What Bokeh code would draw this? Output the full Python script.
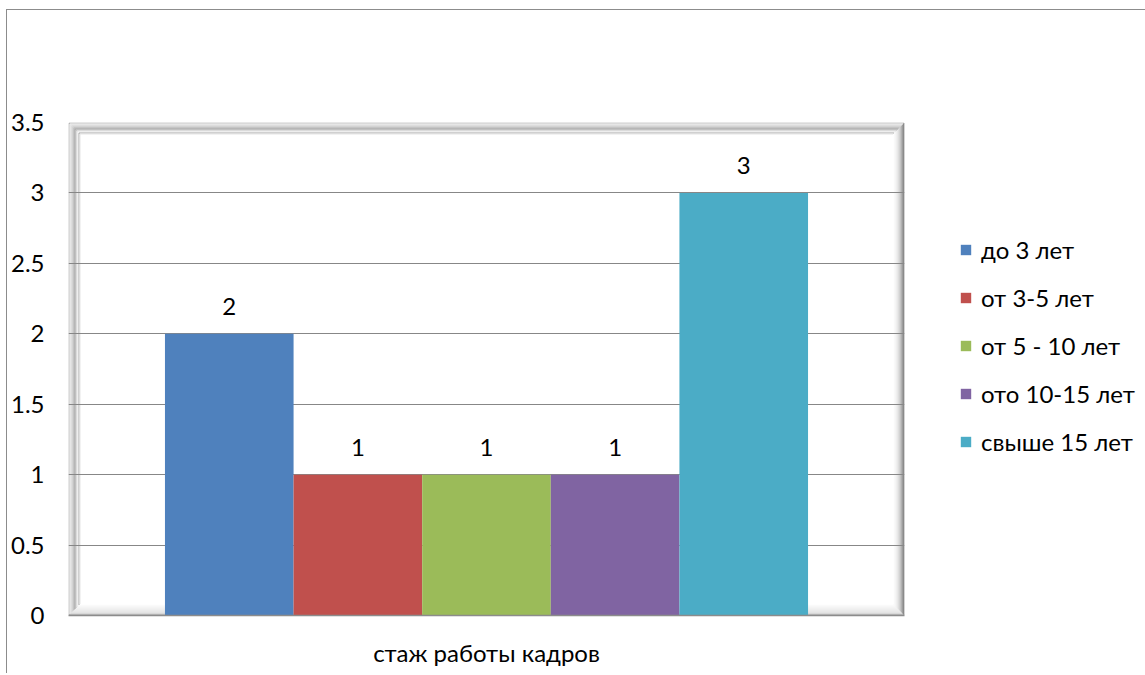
from bokeh.plotting import figure
from bokeh.models import (FactorRange, Range1d, ColumnDataSource, Legend, LegendItem,
                          FixedTicker, NumeralTickFormatter)
from bokeh.transform import dodge
from bokeh.embed import file_html
from bokeh.resources import INLINE
from bokeh.core.properties import value

# ---- data ----
category = "стаж работы кадров"
series = ["до 3 лет", "от 3-5 лет", "от 5 - 10 лет", "ото 10-15 лет", "свыше 15 лет"]
values = [2, 1, 1, 1, 3]
colors = ["#4F81BD", "#C0504D", "#9BBB59", "#8064A2", "#4BACC6"]
y_ticks = [0, 0.5, 1, 1.5, 2, 2.5, 3, 3.5]

FONT = "Lato"
FS = "24px"

FRAME_W, FRAME_H = 836, 493

p = figure(x_range=FactorRange(factors=[category]), y_range=Range1d(0, 3.5),
           frame_width=FRAME_W, frame_height=FRAME_H,
           min_border_left=61, min_border_right=236,
           min_border_top=112, min_border_bottom=58,
           output_backend="svg", toolbar_location=None)
p.styles = {"margin-left": "6px", "margin-top": "9px",
            "border-left": "1px solid #8c8c8c", "border-top": "1px solid #8c8c8c"}
p.outline_line_color = None
p.background_fill_color = "white"
p.border_fill_color = "white"

# grid
p.xgrid.grid_line_color = None
p.ygrid.grid_line_color = "#878787"
p.ygrid.grid_line_width = 1.2
p.yaxis.ticker = FixedTicker(ticks=y_ticks)
p.yaxis.formatter = NumeralTickFormatter(format="0.[0]")
p.yaxis.axis_line_color = None
p.yaxis.major_tick_line_color = None
p.yaxis.minor_tick_line_color = None
p.yaxis.major_tick_in = 0
p.yaxis.major_tick_out = 0
p.yaxis.major_label_standoff = 24
p.yaxis.major_label_text_font = FONT
p.yaxis.major_label_text_font_size = FS
p.yaxis.major_label_text_color = "black"

p.xaxis.axis_line_color = "#8c8c8c"
p.xaxis.axis_line_width = 1.5
p.xaxis.major_tick_line_color = None
p.xaxis.major_tick_in = 0
p.xaxis.major_tick_out = 0
p.xaxis.major_label_standoff = 22
p.xaxis.major_label_text_font = FONT
p.xaxis.major_label_text_font_size = FS
p.xaxis.major_label_text_color = "black"

# bevel frame (decoration), drawn beneath grid
pxx = 1.0 / FRAME_W
pxy = 3.5 / FRAME_H
left_cols = ["#a0a0a0", "#e4e4e4", "#dadada", "#cecece", "#c0c0c0", "#a8a8a8",
             "#989898", "#b4b4b4", "#dcdcdc", "#efefef", "#a8a8a8", "#e6e6e6"]
right_cols = ["#555555", "#6a6a6a", "#858585", "#a0a0a0", "#b8b8b8", "#cacaca",
              "#d8d8d8", "#e4e4e4", "#ececec", "#f3f3f3", "#f9f9f9", "#ffffff"]
bottom_cols = ["#8c8c8c", "#b4b4b4", "#d6d6d6", "#dedede", "#e2e2e2", "#e6e6e6",
               "#eaeaea", "#eeeeee", "#f2f2f2", "#f6f6f6", "#fafafa", "#ffffff"]
for i in range(len(left_cols)):
    ox = (i + 0.5) * pxx
    oy = (i + 0.5) * pxy
    r1 = p.segment(x0=[1 - ox], y0=[oy], x1=[1 - ox], y1=[3.5 - oy],
                   line_color=right_cols[i], line_width=1)
    r2 = p.segment(x0=[ox], y0=[oy], x1=[1 - ox], y1=[oy],
                   line_color=bottom_cols[i], line_width=1)
    r3 = p.segment(x0=[ox], y0=[oy], x1=[ox], y1=[3.5 - oy],
                   line_color=left_cols[i], line_width=1)
    r4 = p.segment(x0=[ox], y0=[3.5 - oy], x1=[1 - ox], y1=[3.5 - oy],
                   line_color=left_cols[i], line_width=1)
    for r in (r1, r2, r3, r4):
        r.level = "image"

# bars
n = len(series)
bw = 1.0 / (n + 1.5)
items = []
for i, (s, v, c) in enumerate(zip(series, values, colors)):
    src = ColumnDataSource(dict(x=[category], top=[v], lab=[str(v)]))
    off = (i - (n - 1) / 2) * bw
    r = p.vbar(x=dodge("x", off, range=p.x_range), top="top", bottom=0, width=bw,
               source=src, fill_color=c, line_color=None)
    p.text(x=dodge("x", off, range=p.x_range), y="top", text="lab", source=src,
           text_align="center", text_baseline="middle", y_offset=-27,
           text_font=value(FONT), text_font_size=FS, text_color="black")
    items.append(LegendItem(label=s, renderers=[r]))

legend = Legend(items=items, location=(55, 159), orientation="vertical",
                glyph_width=13, glyph_height=13, label_standoff=9,
                label_height=30, spacing=18, padding=0, margin=0,
                label_text_font=FONT, label_text_font_size=FS,
                label_text_color="black", border_line_color=None,
                background_fill_alpha=0)
p.add_layout(legend, "right")

open("out.html", "w").write(file_html(p, INLINE))
